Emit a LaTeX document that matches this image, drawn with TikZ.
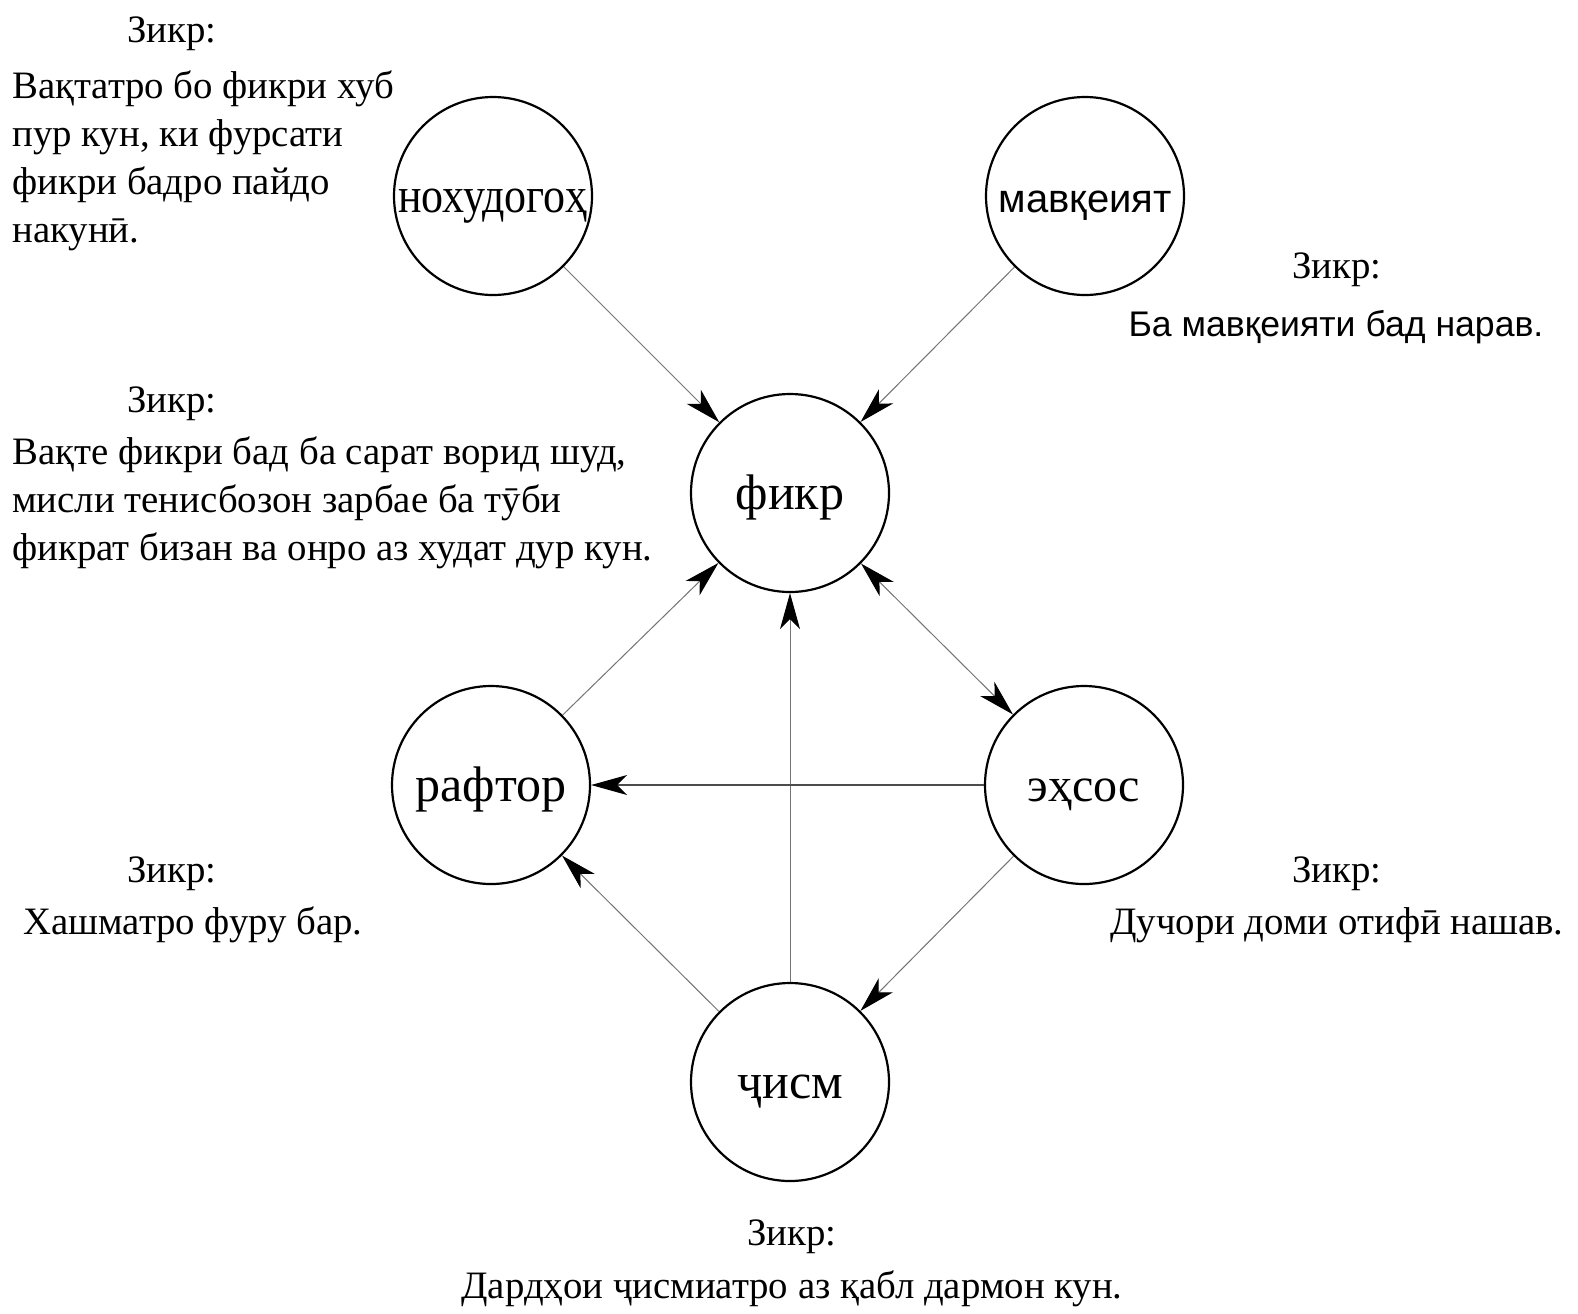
\documentclass[tikz,border=0pt]{standalone}
\usepackage{fontspec}
\setmainfont{Liberation Serif}
\newfontfamily\labelsans{Liberation Sans}
\usetikzlibrary{arrows.meta}

\begin{document}
\begin{tikzpicture}[
        x = .5pt, y = -.5pt,
        >={Stealth[length=18pt, width=10pt, inset=5pt, color=black]},
        concept/.style = {circle, draw, line width=1.1pt, minimum size=99pt,
            inner sep=0pt, text height=16pt, text depth=0pt,
            font=\fontsize{25}{30}\selectfont},
        link/.style = {draw=black!55, line width=.5pt, ->},
        note/.style = {inner sep=0pt, font=\fontsize{19.4}{24}\selectfont}
    ]
    \useasboundingbox (0,0) rectangle (1578,1313);

    % concepts
    \node[concept] (nokhud) at (493,196) {\scalebox{.88}[1]{нохудогоҳ}};
    \node[concept, font=\labelsans\fontsize{20}{24}\selectfont] (mavqe) at (1085,196) {мавқеият};
    \node[concept] (fikr) at (790,493) {фикр};
    \node[concept] (raftor) at (491,785) {рафтор};
    \node[concept, font=\fontsize{24}{28}\selectfont] (ehsos) at (1084,785) {эҳсос};
    \node[concept] (jism) at (790,1082) {ҷисм};

    % links
    \draw[link] (nokhud) -- (fikr);
    \draw[link] (mavqe) -- (fikr);
    \draw[link] (raftor) -- (fikr);
    \draw[link] (jism) -- (fikr);
    \draw[link, <->] (fikr) -- (ehsos);
    \draw[link, draw=black!70, line width=.7pt] (ehsos) -- (raftor);
    \draw[link] (jism) -- (raftor);
    \draw[link] (ehsos) -- (jism);

    % notes
    \node[note, anchor=base] (z1) at (172,42) {Зикр:};
    \node[note, anchor=north west, align=left] (n1) at (12,70)
        {Вақтатро бо фикри хуб\\пур кун, ки фурсати\\фикри бадро пайдо\\накунӣ.};
    \node[note, anchor=base] (z2) at (172,412) {Зикр:};
    \node[note, anchor=north west, align=left] (n2) at (12,436)
        {Вақте фикри бад ба сарат ворид шуд,\\мисли тенисбозон зарбае ба тӯби\\фикрат бизан ва онро аз худат дур кун.};
    \node[note, anchor=base] (z3) at (1337,278) {Зикр:};
    \node[note, anchor=base, font=\labelsans\fontsize{17.8}{24}\selectfont] (n3) at (1336,336)
        {Ба мавқеияти бад нарав.};
    \node[note, anchor=base] (z4) at (172,882) {Зикр:};
    \node[note, anchor=base] (n4) at (193,934) {Хашматро фуру бар.};
    \node[note, anchor=base] (z5) at (1337,882) {Зикр:};
    \node[note, anchor=base] (n5) at (1337,934) {Дучори доми отифӣ нашав.};
    \node[note, anchor=base] (z6) at (792,1245) {Зикр:};
    \node[note, anchor=base] (n6) at (792,1298) {Дардҳои ҷисмиатро аз қабл дармон кун.};
\end{tikzpicture}
\end{document}
